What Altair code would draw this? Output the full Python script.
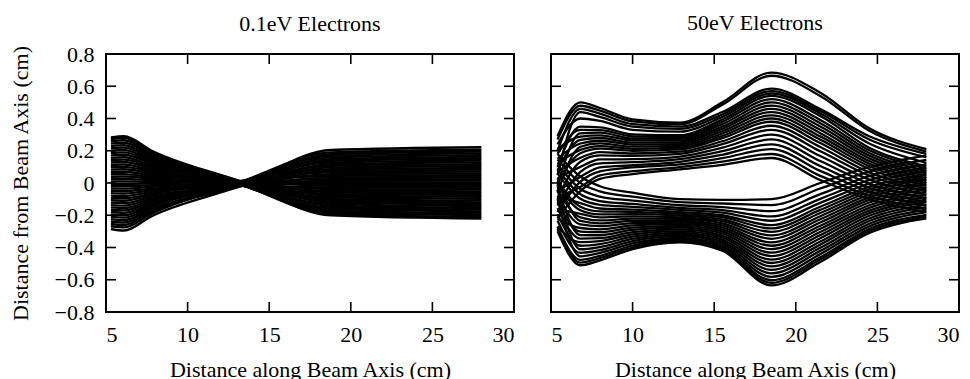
import altair as alt
import pandas as pd

FONT = "Liberation Serif"
PANEL_TITLES = ["0.1eV Electrons", "50eV Electrons"]
X_TITLE = "Distance along Beam Axis (cm)"
Y_TITLE = "Distance from Beam Axis (cm)"
X_LABELS = [5, 10, 15, 20, 25, 30]
Y_LABELS = [-0.8, -0.6, -0.4, -0.2, 0, 0.2, 0.4, 0.6, 0.8]
X_INNER_TICKS = [10, 15, 20, 25]
Y_INNER_TICKS = [-0.6, -0.4, -0.2, 0, 0.2, 0.4, 0.6]

# 0.1 eV electrons: y values at the knots along the beam axis
LEFT_X = [5.3, 6.1, 7.8, 13.2, 18.8, 28.0]
LEFT_Y = [
    [0.283, 0.29, 0.20, 0.01, -0.20, -0.22],
    [0.273, 0.28, 0.193, -0.005, -0.193, -0.21],
    [0.259, 0.265, 0.183, 0.012, -0.183, -0.199],
    [0.244, 0.25, 0.173, -0.01, -0.172, -0.188],
    [0.229, 0.235, 0.162, 0.006, -0.162, -0.176],
    [0.215, 0.22, 0.152, -0.012, -0.152, -0.165],
    [0.2, 0.205, 0.141, 0.004, -0.141, -0.154],
    [0.185, 0.19, 0.131, -0.008, -0.131, -0.143],
    [0.171, 0.175, 0.121, 0.01, -0.121, -0.131],
    [0.156, 0.16, 0.11, -0.003, -0.11, -0.12],
    [0.141, 0.145, 0.1, 0.008, -0.1, -0.109],
    [0.127, 0.13, 0.09, -0.014, -0.09, -0.098],
    [0.112, 0.115, 0.079, 0.002, -0.079, -0.086],
    [0.098, 0.10, 0.069, -0.006, -0.069, -0.075],
    [0.083, 0.085, 0.059, 0.011, -0.059, -0.064],
    [0.068, 0.07, 0.048, -0.009, -0.048, -0.053],
    [0.054, 0.055, 0.038, 0.005, -0.038, -0.041],
    [0.039, 0.04, 0.028, -0.015, -0.028, -0.03],
    [0.024, 0.025, 0.017, 0.007, -0.017, -0.019],
    [0.01, 0.01, 0.007, -0.004, -0.007, -0.008],
    [-0.005, -0.005, -0.003, 0.009, 0.003, 0.004],
    [-0.019, -0.02, -0.014, -0.011, 0.014, 0.015],
    [-0.034, -0.035, -0.024, 0.003, 0.024, 0.026],
    [-0.049, -0.05, -0.035, -0.016, 0.035, 0.038],
    [-0.063, -0.065, -0.045, 0.006, 0.045, 0.049],
    [-0.078, -0.08, -0.055, -0.007, 0.055, 0.06],
    [-0.093, -0.095, -0.066, 0.012, 0.066, 0.071],
    [-0.107, -0.11, -0.076, -0.018, 0.076, 0.083],
    [-0.122, -0.125, -0.086, 0.001, 0.086, 0.094],
    [-0.137, -0.14, -0.097, -0.01, 0.097, 0.105],
    [-0.151, -0.155, -0.107, 0.009, 0.107, 0.116],
    [-0.166, -0.17, -0.117, -0.02, 0.117, 0.128],
    [-0.18, -0.185, -0.128, 0.004, 0.128, 0.139],
    [-0.195, -0.20, -0.138, -0.012, 0.138, 0.15],
    [-0.21, -0.215, -0.148, 0.008, 0.148, 0.161],
    [-0.224, -0.23, -0.159, -0.022, 0.159, 0.173],
    [-0.239, -0.245, -0.169, 0.002, 0.169, 0.184],
    [-0.254, -0.26, -0.179, -0.015, 0.179, 0.195],
    [-0.268, -0.275, -0.19, 0.005, 0.19, 0.206],
    [-0.285, -0.295, -0.205, -0.02, 0.205, 0.222],
]

# 50 eV electrons: y values at the knots along the beam axis
RIGHT_X = [5.4, 6.8, 8.0, 10.0, 12.9, 15.5, 18.5, 21.5, 24.5, 28.0]
RIGHT_UPPER = [
    [0.29, 0.50, 0.465, 0.395, 0.375, 0.50, 0.685, 0.56, 0.34, 0.21],
    [0.27, 0.479, 0.449, 0.382, 0.364, 0.486, 0.665, 0.54, 0.324, 0.195],
    [0.20, 0.46, 0.43, 0.365, 0.35, 0.44, 0.585, 0.458, 0.29, 0.18],
    [0.05, 0.44, 0.41, 0.35, 0.336, 0.425, 0.57, 0.446, 0.27, 0.16],
    [0.24, 0.40, 0.385, 0.33, 0.318, 0.41, 0.555, 0.431, 0.245, 0.125],
    [0.10, 0.349, 0.345, 0.302, 0.296, 0.394, 0.54, 0.416, 0.219, 0.103],
    [0.18, 0.329, 0.328, 0.289, 0.285, 0.38, 0.52, 0.391, 0.203, 0.089],
    [-0.02, 0.308, 0.312, 0.276, 0.274, 0.365, 0.50, 0.371, 0.186, 0.074],
    [0.21, 0.288, 0.295, 0.264, 0.263, 0.35, 0.48, 0.351, 0.17, 0.059],
    [0.08, 0.267, 0.279, 0.251, 0.252, 0.336, 0.46, 0.33, 0.153, 0.045],
    [0.15, 0.245, 0.262, 0.238, 0.241, 0.321, 0.44, 0.309, 0.136, 0.029],
    [-0.06, 0.225, 0.246, 0.225, 0.23, 0.307, 0.42, 0.289, 0.12, 0.015],
    [0.12, 0.205, 0.229, 0.212, 0.219, 0.292, 0.40, 0.269, 0.104, 0.0],
    [0.0, 0.184, 0.213, 0.2, 0.208, 0.278, 0.38, 0.248, 0.087, -0.014],
    [0.07, 0.157, 0.192, 0.183, 0.194, 0.259, 0.355, 0.223, 0.066, -0.033],
    [-0.1, 0.132, 0.171, 0.168, 0.181, 0.241, 0.33, 0.197, 0.046, -0.051],
    [0.03, 0.10, 0.146, 0.148, 0.164, 0.219, 0.30, 0.167, 0.021, -0.073],
    [-0.14, 0.069, 0.122, 0.129, 0.148, 0.197, 0.27, 0.136, -0.005, -0.095],
    [-0.05, 0.038, 0.097, 0.11, 0.131, 0.175, 0.24, 0.105, -0.03, -0.118],
    [-0.18, 0.008, 0.072, 0.097, 0.115, 0.154, 0.21, 0.075, -0.054, -0.139],
    [-0.09, -0.024, 0.047, 0.073, 0.099, 0.132, 0.18, 0.044, -0.079, -0.161],
    [-0.22, -0.05, 0.026, 0.055, 0.085, 0.113, 0.155, 0.018, -0.1, -0.18],
]
RIGHT_LOWER = [
    [-0.30, -0.51, -0.48, -0.41, -0.368, -0.42, -0.635, -0.49, -0.31, -0.22],
    [-0.286, -0.494, -0.466, -0.40, -0.36, -0.411, -0.619, -0.475, -0.298, -0.208],
    [-0.271, -0.477, -0.452, -0.389, -0.352, -0.401, -0.603, -0.461, -0.285, -0.197],
    [-0.10, -0.455, -0.434, -0.375, -0.341, -0.389, -0.582, -0.441, -0.269, -0.181],
    [-0.233, -0.433, -0.416, -0.361, -0.33, -0.376, -0.56, -0.421, -0.253, -0.165],
    [-0.04, -0.411, -0.397, -0.347, -0.32, -0.363, -0.539, -0.402, -0.236, -0.15],
    [-0.194, -0.389, -0.379, -0.333, -0.309, -0.351, -0.517, -0.382, -0.22, -0.134],
    [-0.27, -0.367, -0.36, -0.319, -0.298, -0.338, -0.496, -0.363, -0.203, -0.119],
    [-0.156, -0.345, -0.342, -0.305, -0.288, -0.326, -0.475, -0.343, -0.187, -0.103],
    [-0.02, -0.323, -0.324, -0.291, -0.277, -0.313, -0.453, -0.323, -0.171, -0.087],
    [-0.118, -0.301, -0.305, -0.277, -0.266, -0.30, -0.432, -0.304, -0.154, -0.072],
    [-0.22, -0.279, -0.287, -0.263, -0.255, -0.288, -0.41, -0.284, -0.138, -0.056],
    [-0.079, -0.257, -0.268, -0.249, -0.245, -0.275, -0.389, -0.265, -0.121, -0.041],
    [0.03, -0.235, -0.25, -0.235, -0.234, -0.263, -0.368, -0.245, -0.105, -0.025],
    [-0.041, -0.213, -0.232, -0.221, -0.223, -0.25, -0.346, -0.225, -0.089, -0.009],
    [-0.16, -0.191, -0.213, -0.207, -0.213, -0.237, -0.325, -0.206, -0.072, 0.006],
    [-0.002, -0.169, -0.195, -0.193, -0.202, -0.225, -0.303, -0.186, -0.056, 0.022],
    [0.017, -0.147, -0.176, -0.179, -0.191, -0.212, -0.282, -0.167, -0.039, 0.037],
    [-0.08, -0.125, -0.158, -0.165, -0.18, -0.20, -0.261, -0.147, -0.023, 0.053],
    [0.06, -0.098, -0.135, -0.148, -0.167, -0.184, -0.234, -0.123, -0.003, 0.072],
    [0.084, -0.07, -0.112, -0.13, -0.154, -0.168, -0.207, -0.098, 0.018, 0.092],
    [0.113, -0.037, -0.084, -0.109, -0.138, -0.149, -0.175, -0.069, 0.043, 0.115],
    [0.146, 0.001, -0.052, -0.085, -0.119, -0.127, -0.137, -0.034, 0.071, 0.143],
    [0.18, 0.04, -0.02, -0.06, -0.10, -0.105, -0.10, 0.0, 0.1, 0.17],
]


def to_long(xs, rows, prefix):
    recs = []
    for i, row in enumerate(rows):
        for x, y in zip(xs, row):
            recs.append({"traj": f"{prefix}{i}", "x": x, "y": y})
    return pd.DataFrame(recs)


left_df = to_long(LEFT_X, LEFT_Y, "a")
right_df = pd.concat([to_long(RIGHT_X, RIGHT_UPPER, "u"),
                      to_long(RIGHT_X, RIGHT_LOWER, "l")], ignore_index=True)

W, H = 408, 258
TICK = 10


def panel(df, title, show_y, sw, title_offset):
    xs = alt.Scale(domain=[5, 30], nice=False, zero=False)
    ys = alt.Scale(domain=[-0.8, 0.8], nice=False, zero=False)
    common = dict(ticks=False, tickSize=0, domain=False, grid=False,
                  labelFont=FONT, titleFont=FONT, labelFontSize=22,
                  titleFontSize=22, labelColor="black", titleColor="black",
                  titleFontWeight="normal")
    xaxis = alt.Axis(values=X_LABELS, title=X_TITLE, labelPadding=12,
                     titlePadding=14, format="d", **common)
    if show_y:
        yaxis = alt.Axis(values=Y_LABELS, title=Y_TITLE, labelPadding=12,
                         titlePadding=22, format="~g", **common)
    else:
        yaxis = None
    lines = alt.Chart(df).mark_line(
        interpolate="monotone", color="black", strokeWidth=sw
    ).encode(
        x=alt.X("x:Q", scale=xs, axis=xaxis),
        y=alt.Y("y:Q", scale=ys, axis=yaxis),
        detail="traj:N",
    )
    yt = pd.DataFrame({"v": Y_INNER_TICKS})
    xt = pd.DataFrame({"v": X_INNER_TICKS})
    rule = dict(color="black", strokeWidth=1.6)
    t_left = alt.Chart(yt).mark_rule(**rule).encode(
        y=alt.Y("v:Q", scale=ys, axis=yaxis), x=alt.value(0), x2=alt.value(TICK))
    t_right = alt.Chart(yt).mark_rule(**rule).encode(
        y=alt.Y("v:Q", scale=ys, axis=yaxis), x=alt.value(W), x2=alt.value(W - TICK))
    t_bottom = alt.Chart(xt).mark_rule(**rule).encode(
        x=alt.X("v:Q", scale=xs, axis=xaxis), y=alt.value(H), y2=alt.value(H - TICK))
    t_top = alt.Chart(xt).mark_rule(**rule).encode(
        x=alt.X("v:Q", scale=xs, axis=xaxis), y=alt.value(0), y2=alt.value(TICK))
    return alt.layer(lines, t_left, t_right, t_bottom, t_top).properties(
        width=W, height=H,
        title=alt.TitleParams(title, anchor="middle", frame="group",
                              fontSize=22, font=FONT, fontWeight="normal",
                              color="black", offset=title_offset),
    )


left = panel(left_df, PANEL_TITLES[0], True, 2.4, 7)
right = panel(right_df, PANEL_TITLES[1], False, 2.3, 18)

chart = alt.hconcat(left, right, spacing=37, bounds="flush").properties(
    padding={"left": 8, "top": 11, "right": 8, "bottom": 2},
    background="white",
).configure(
    font=FONT
).configure_view(
    stroke="black", strokeWidth=2
)

chart.save("out.html", embed_options={"renderer": "svg", "actions": False})
